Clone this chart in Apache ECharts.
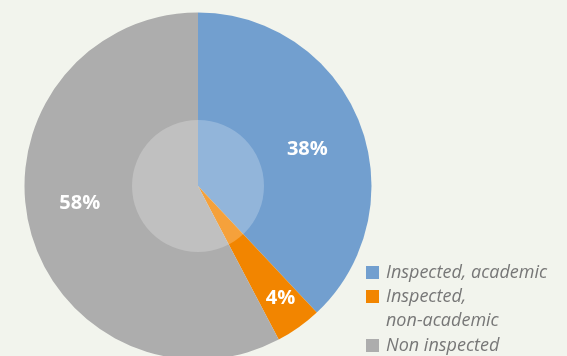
<!DOCTYPE html>
<html><head><meta charset="utf-8">
<script src="https://cdn.jsdelivr.net/npm/echarts@6/dist/echarts.min.js"></script>
<style>html,body{margin:0;padding:0;background:#f2f4ed;}#c{width:567px;height:356px;}</style>
</head><body><div id="c"></div>
<script>
const categories = ['Inspected, academic', 'Inspected, non-academic', 'Non inspected'];
const legendLabels = ['Inspected, academic', '\nInspected,\nnon-academic', 'Non inspected'];
const values = [38, 4.3, 57.7];
const colors = ['#729fcf', '#f28500', '#adadad'];
const labelOffsets = [[-2, 7], [13, 15], [-2, -11]];

const chart = echarts.init(document.getElementById('c'), null, {renderer: 'canvas'});
const center = [198, 186];
const R = 173.5;
const baseData = categories.map((n, i) => ({name: n, value: values[i], itemStyle: {color: colors[i]}}));
const labelData = categories.map((n, i) => ({name: n, value: values[i], label: {offset: labelOffsets[i]}}));
const legendText = {fontFamily: 'Open Sans', fontStyle: 'italic', fontSize: 18, color: '#777', lineHeight: 24, padding: [0, 0, 0, 2]};
function mkLegend(i, top) {
  return {
    left: 366, top: top, orient: 'vertical', padding: 0, itemWidth: 13, itemHeight: 13,
    icon: 'rect', selectedMode: false, data: [categories[i]],
    formatter: () => legendLabels[i],
    textStyle: legendText
  };
}
chart.setOption({
  backgroundColor: '#f2f4ed',
  animation: false,
  legend: [
    mkLegend(0, 260.5),
    mkLegend(1, 260.5),
    mkLegend(2, 333.5)
  ],
  series: [
    {type: 'pie', center: center, radius: [0, R], startAngle: 90, clockwise: true, silent: true,
     itemStyle: {borderWidth: 0}, label: {show: false}, labelLine: {show: false}, data: baseData},
    {type: 'pie', center: center, radius: [0, 66], silent: true, itemStyle: {borderWidth: 0, color: 'rgba(255,255,255,0.23)'},
     label: {show: false}, labelLine: {show: false}, data: [{name: '_overlay', value: 1}]},
    {type: 'pie', center: center, radius: [60, R], startAngle: 90, clockwise: true, silent: true,
     itemStyle: {color: 'rgba(0,0,0,0)', borderWidth: 0},
     label: {show: true, position: 'inside', color: '#fff', fontFamily: 'Open Sans', fontWeight: 'bold', fontSize: 20,
       formatter: p => Math.round(p.value) + '%'},
     labelLine: {show: false}, data: labelData}
  ]
});
</script></body></html>
